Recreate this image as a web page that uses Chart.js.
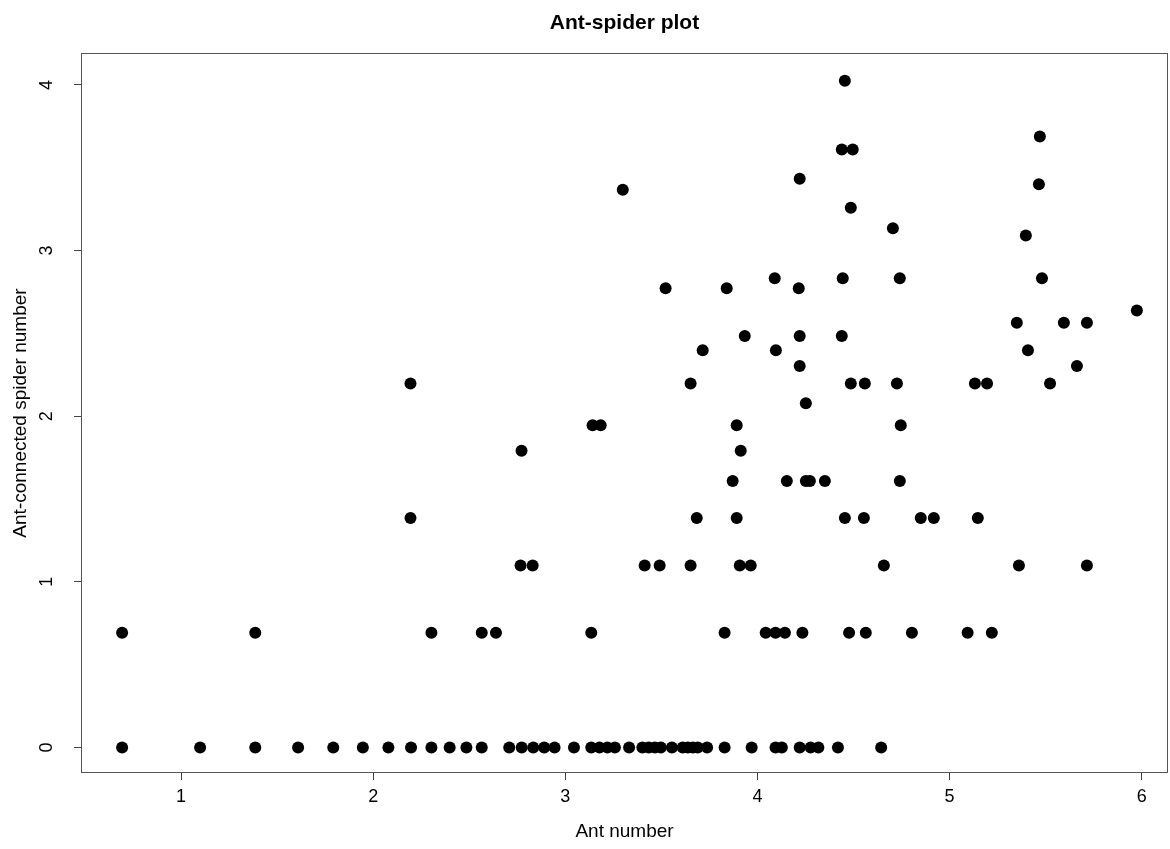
<!DOCTYPE html>
<html>
<head>
<meta charset="utf-8">
<title>Ant-spider plot</title>
<script src="https://cdn.jsdelivr.net/npm/chart.js@4.4.1/dist/chart.umd.min.js"></script>
<style>
  html, body { margin: 0; padding: 0; background: #fff; }
  #wrap { width: 1170px; height: 849px; }
</style>
</head>
<body>
<div id="wrap"><canvas id="antChart" width="1170" height="849"></canvas></div>
<script>
// one entry per plot point, grouped by spider level
const antNumber = [
  // spider 0
  0.693, 1.099, 1.386, 1.609, 1.792, 1.946, 2.079, 2.197, 2.303, 2.398, 2.485, 2.565,
  2.708, 2.773, 2.833, 2.890, 2.944, 3.045, 3.135, 3.178, 3.219, 3.258, 3.332, 3.401,
  3.434, 3.466, 3.497, 3.555, 3.611, 3.638, 3.664, 3.689, 3.738, 3.829, 3.970, 4.094,
  4.127, 4.220, 4.277, 4.317, 4.419, 4.644,
  // spider 0.69
  0.693, 1.386, 2.303, 2.565, 2.639, 3.135, 3.829, 4.043, 4.094, 4.143, 4.234, 4.477,
  4.564, 4.804, 5.094, 5.220,
  // spider 1.10
  2.767, 2.830, 3.413, 3.491, 3.652, 3.908, 3.965, 4.658, 5.361, 5.715,
  // spider 1.39
  2.194, 3.684, 3.892, 4.455, 4.554, 4.850, 4.918, 5.147,
  // spider 1.61
  3.871, 4.153, 4.252, 4.273, 4.351, 4.741,
  // spider 1.79
  2.772, 3.913,
  // spider 1.95
  3.142, 3.184, 3.892, 4.746,
  // spider 2.08
  4.252,
  // spider 2.20
  2.194, 3.652, 4.486, 4.559, 4.726, 5.132, 5.195, 5.523,
  // spider 2.30
  4.220, 5.663,
  // spider 2.40
  3.715, 4.096, 5.408,
  // spider 2.48
  3.934, 4.220, 4.439,
  // spider 2.56
  5.350, 5.595, 5.715,
  // spider 2.64
  5.975,
  // spider 2.77
  3.522, 3.840, 4.215,
  // spider 2.83
  4.090, 4.444, 4.741, 5.481,
  // spider 3.09 .. 4.03
  5.397, 4.705, 4.486, 3.299, 5.465, 4.220, 4.439, 4.496, 5.470, 4.455
];

const spiderNumber = [
  0,0,0,0,0,0,0,0,0,0,0,0, 0,0,0,0,0,0,0,0,0,0,0,0, 0,0,0,0,0,0,0,0,0,0,0,0, 0,0,0,0,0,0,
  0.693,0.693,0.693,0.693,0.693,0.693,0.693,0.693,0.693,0.693,0.693,0.693,
  0.693,0.693,0.693,0.693,
  1.099,1.099,1.099,1.099,1.099,1.099,1.099,1.099,1.099,1.099,
  1.386,1.386,1.386,1.386,1.386,1.386,1.386,1.386,
  1.609,1.609,1.609,1.609,1.609,1.609,
  1.792,1.792,
  1.946,1.946,1.946,1.946,
  2.079,
  2.197,2.197,2.197,2.197,2.197,2.197,2.197,2.197,
  2.303,2.303,
  2.398,2.398,2.398,
  2.485,2.485,2.485,
  2.565,2.565,2.565,
  2.639,
  2.773,2.773,2.773,
  2.833,2.833,2.833,2.833,
  3.091, 3.135, 3.258, 3.367, 3.401, 3.434, 3.611, 3.611, 3.689, 4.025
];

const xTicks = [1, 2, 3, 4, 5, 6];
const yTicks = [0, 1, 2, 3, 4];

const points = antNumber.map((x, i) => ({ x: x, y: spiderNumber[i] }));

const fontFamily = '"Liberation Sans", Arial, sans-serif';

// title, axis titles, y tick labels and the box, drawn R style
const rDecor = {
  id: 'rDecor',
  afterDraw(chart) {
    const c = chart.ctx;
    const a = chart.chartArea;
    const cx = (a.left + a.right) / 2;
    c.save();
    c.strokeStyle = '#555';
    c.lineWidth = 1;
    c.strokeRect(a.left + 0.5, a.top + 0.5, a.right - a.left - 1, a.bottom - a.top - 1);

    c.fillStyle = '#000';
    c.textAlign = 'center';
    c.textBaseline = 'middle';
    c.font = 'bold 21px ' + fontFamily;
    c.fillText('Ant-spider plot', cx, 23);

    c.font = '19px ' + fontFamily;
    c.fillText('Ant number', cx, 832);

    c.save();
    c.translate(21, (a.top + a.bottom) / 2);
    c.rotate(-Math.PI / 2);
    c.fillText('Ant-connected spider number', 0, 0);
    c.restore();

    const ys = chart.scales.y;
    c.font = '18px ' + fontFamily;
    yTicks.forEach(v => {
      c.save();
      c.translate(47, ys.getPixelForValue(v));
      c.rotate(-Math.PI / 2);
      c.fillText(String(v), 0, 0);
      c.restore();
    });
    c.restore();
  }
};

new Chart(document.getElementById('antChart').getContext('2d'), {
  type: 'scatter',
  data: {
    datasets: [{
      label: 'Ant-spider',
      data: points,
      backgroundColor: '#000',
      borderColor: '#000',
      borderWidth: 0,
      pointRadius: 6,
      pointHoverRadius: 6
    }]
  },
  options: {
    responsive: false,
    devicePixelRatio: 1,
    animation: false,
    layout: { autoPadding: false, padding: { top: 53, right: 2, left: 0, bottom: 0 } },
    plugins: {
      legend: { display: false },
      title: { display: false },
      tooltip: { enabled: false }
    },
    scales: {
      x: {
        type: 'linear',
        min: 0.479,
        max: 6.137,
        afterFit(scale) { scale.height = 76; },
        afterBuildTicks(scale) { scale.ticks = xTicks.map(v => ({ value: v })); },
        border: { display: false },
        grid: { display: true, drawOnChartArea: false, drawTicks: true, tickLength: 7, tickColor: '#444' },
        ticks: {
          padding: 6,
          color: '#000',
          font: { size: 18, family: fontFamily },
          maxRotation: 0
        }
      },
      y: {
        type: 'linear',
        min: -0.154,
        max: 4.193,
        afterFit(scale) { scale.width = 81; },
        afterBuildTicks(scale) { scale.ticks = yTicks.map(v => ({ value: v })); },
        border: { display: false },
        grid: { display: true, drawOnChartArea: false, drawTicks: true, tickLength: 7, tickColor: '#444' },
        ticks: { display: false }
      }
    }
  },
  plugins: [rDecor]
});
</script>
</body>
</html>
